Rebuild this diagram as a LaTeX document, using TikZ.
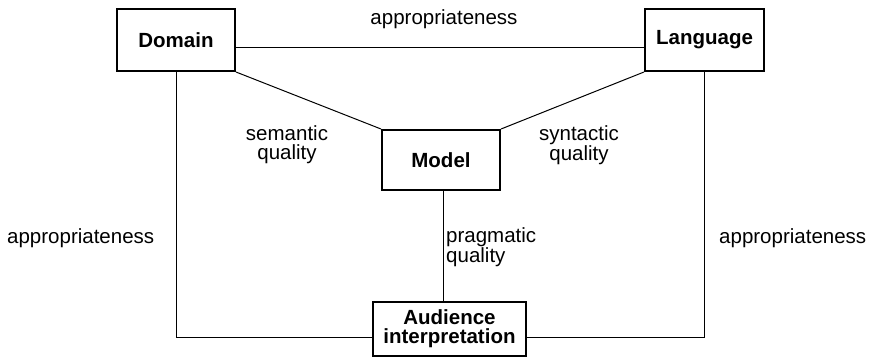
\documentclass[tikz,border=0pt]{standalone}
\usepackage{fontspec}
\setmainfont{Liberation Sans}
\usetikzlibrary{calc}
\begin{document}
\begin{tikzpicture}[x=1pt,y=-1pt,
  every node/.style={font=\fontsize{20.5}{19}\selectfont},
  box/.style={draw,line width=2pt,inner sep=2pt,font=\fontsize{20.5}{19}\selectfont\bfseries,align=center},
  conn/.style={line width=1pt},
  lbl/.style={inner sep=0pt}]
\useasboundingbox (0,0) rectangle (872,357);
\node[box,minimum width=118,minimum height=62] (Domain) at (176,40) {Domain};
\node[box,minimum width=119,minimum height=62] (Language) at (704.5,40) {Language};
\node[box,minimum width=118,minimum height=60] (Model) at (441,160) {Model};
\node[box,minimum width=153,minimum height=54] (Audience) at (449.5,329) {Audience\\interpretation};
% connectors
\draw[conn] ($(Domain.east)+(0,7)$) -- ($(Language.west)+(0,7)$);
\draw[conn] (Domain.south east) -- (Model.north west);
\draw[conn] (Language.south west) -- (Model.north east);
\draw[conn] (Domain.south) |- ($(Audience.west)+(0,8)$);
\draw[conn] (Language.south) |- ($(Audience.east)+(0,8)$);
\draw[conn] ($(Model.south)+(2,0)$) -- ($(Audience.north)+(-6.5,0)$);
% labels
\node[lbl,anchor=base] (tapp) at (444,24) {appropriateness};
\node[lbl,anchor=base west] (lapp) at (7,243) {appropriateness};
\node[lbl,anchor=base west] (rapp) at (719,243) {appropriateness};
\node[lbl,anchor=north,align=center] (sem) at (287,125) {semantic\\quality};
\node[lbl,anchor=north,align=center] (syn) at (579,125) {syntactic\\quality};
\node[lbl,anchor=north west,align=left] (prag) at (446,227) {pragmatic\\quality};
\end{tikzpicture}
\end{document}
